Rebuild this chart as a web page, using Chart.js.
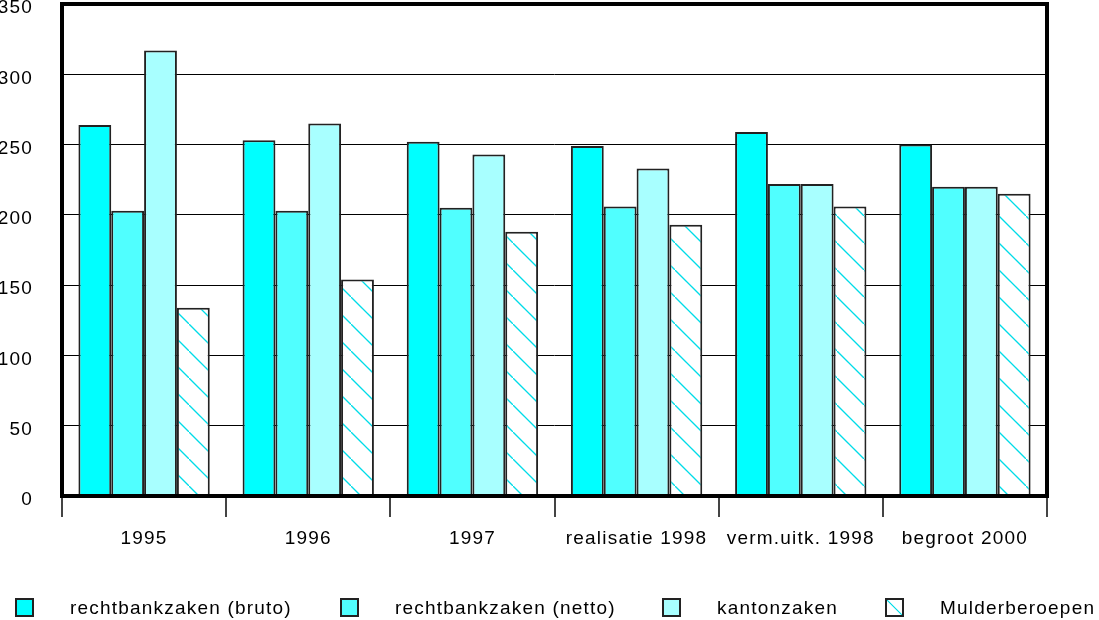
<!DOCTYPE html>
<html>
<head>
<meta charset="utf-8">
<script src="https://cdn.jsdelivr.net/npm/chart.js@4.4.0/dist/chart.umd.min.js"></script>
<style>
  body { margin: 0; background: #fff; }
  #wrap { position: relative; width: 1099px; height: 620px; }
  #legend { position: absolute; left: 0; top: 0; width: 1099px; height: 620px; pointer-events: none; }
  .item { position: absolute; top: 598px; height: 19px; display: flex; align-items: center;
          font: 19px "Liberation Sans", Arial, sans-serif; letter-spacing: 1.2px; color: #000; white-space: nowrap; }
  .box { box-sizing: border-box; width: 19px; height: 19px; border: 2px solid #222; margin-right: 36px; }
</style>
</head>
<body>
<div id="wrap">
  <canvas id="c" width="1099" height="620"></canvas>
  <div id="legend"></div>
</div>
<script>
const categories = ["1995", "1996", "1997", "realisatie 1998", "verm.uitk. 1998", "begroot 2000"];
const seriesNames = ["rechtbankzaken (bruto)", "rechtbankzaken (netto)", "kantonzaken", "Mulderberoepen"];
const bruto  = [264, 253, 252, 249, 259, 250];
const netto  = [203, 203, 205, 206, 222, 220];
const kanton = [317, 265, 243, 233, 222, 220];
const mulder = [134, 154, 188, 193, 206, 215];

const FONT = { family: '"Liberation Sans", Arial, sans-serif', size: 19 };
const HATCH = "#00dce8";

const canvas = document.getElementById("c");

// wit met cyaan schuine streepjes voor Mulder
function hatchPattern() {
  const t = document.createElement("canvas");
  t.width = 27; t.height = 27;
  const g = t.getContext("2d");
  g.fillStyle = "#fff";
  g.fillRect(0, 0, 27, 27);
  g.strokeStyle = HATCH;
  g.lineWidth = 1.3;
  g.beginPath();
  g.moveTo(-2, -2);
  g.lineTo(29, 29);
  g.stroke();
  return canvas.getContext("2d").createPattern(t, "repeat");
}

const fills = ["#00ffff", "#50ffff", "#a8ffff", hatchPattern()];
const values = [bruto, netto, kanton, mulder];

const frame = {
  id: "frame",
  beforeDraw(chart) { chart.ctx.letterSpacing = "1.2px"; },
  afterDatasetsDraw(chart) {
    const { ctx, chartArea: a } = chart;
    ctx.save();
    ctx.strokeStyle = "#000";
    ctx.lineWidth = 4;
    ctx.strokeRect(a.left, a.top, a.right - a.left, a.bottom - a.top);
    ctx.restore();
  }
};

new Chart(canvas, {
  type: "bar",
  data: {
    labels: categories,
    datasets: seriesNames.map((name, i) => ({
      label: name,
      data: values[i],
      backgroundColor: fills[i],
      borderColor: "#222",
      borderWidth: 2,
      categoryPercentage: 0.8,
      barPercentage: 1.0
    }))
  },
  options: {
    responsive: false,
    animation: false,
    layout: { padding: { left: 0, top: 4, right: 52, bottom: 64 } },
    plugins: { legend: { display: false }, tooltip: { enabled: false } },
    scales: {
      x: {
        grid: { offset: true, drawOnChartArea: false, drawTicks: true, tickLength: 21, color: "#444", lineWidth: 2 },
        border: { display: false },
        ticks: { font: FONT, color: "#000", padding: 10, maxRotation: 0 },
        afterFit(s) { s.height = 60; s.paddingLeft = 0; s.paddingRight = 0; }
      },
      y: {
        min: 0, max: 350,
        grid: { color: "#000", lineWidth: 1, drawTicks: false },
        border: { display: false },
        ticks: { stepSize: 50, font: FONT, color: "#000", padding: 29, labelOffset: 4 },
        afterFit(s) { s.width = 62; s.paddingTop = 0; s.paddingBottom = 0; }
      }
    }
  },
  plugins: [frame]
});

// legenda onderaan, met de vaste posities uit het origineel
const legendLeft = [15, 340, 662, 885];
const legend = document.getElementById("legend");
seriesNames.forEach((name, i) => {
  const it = document.createElement("div");
  it.className = "item";
  it.style.left = legendLeft[i] + "px";
  const bg = i === 3
    ? `linear-gradient(to top right, #fff calc(50% - 1px), ${HATCH} 50%, #fff calc(50% + 1px))`
    : fills[i];
  it.innerHTML = `<div class="box" style="background:${bg}"></div><span>${name}</span>`;
  legend.appendChild(it);
});
</script>
</body>
</html>
